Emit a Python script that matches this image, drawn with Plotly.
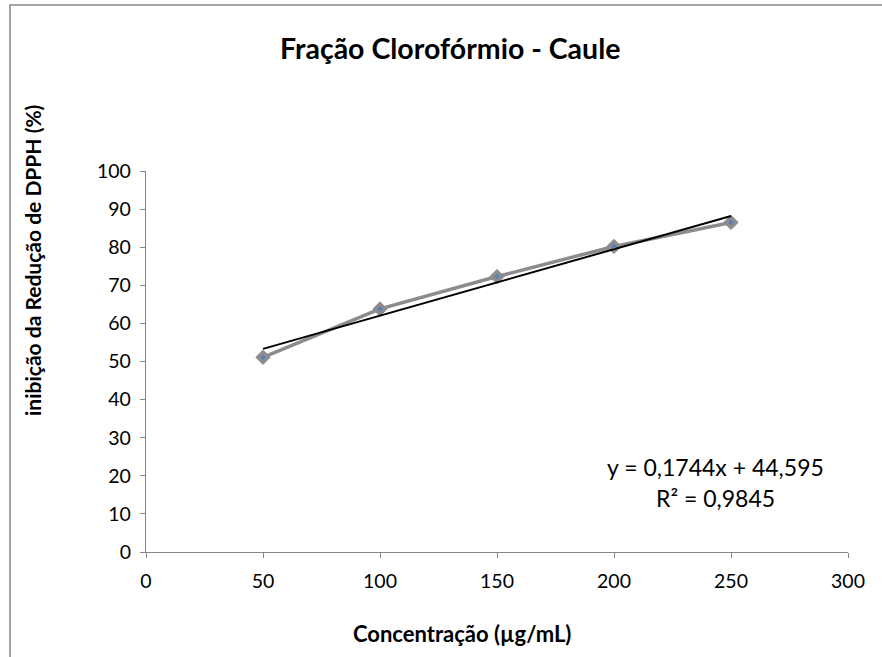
import numpy as np
import plotly.graph_objects as go

# Data
concentracao = [50, 100, 150, 200, 250]
inibicao = [51.1, 63.8, 72.3, 80.2, 86.5]
slope = 0.1744
intercept = 44.595
r2_text = "R² = 0,9845"
eq_text = "y = 0,1744x + 44,595"
x_ticks = [0, 50, 100, 150, 200, 250, 300]
y_ticks = [0, 10, 20, 30, 40, 50, 60, 70, 80, 90, 100]

W, H = 882, 657
L, R, T, B = 146, 34, 171, 105
pw, ph = W - L - R, H - T - B

def px(x):
    return (x - L) / pw

def py(y):
    return (H - B - y) / ph

FONT = "Lato, 'Open Sans', sans-serif"

trend_x = [concentracao[0], concentracao[-1]]
trend_y = [slope * v + intercept for v in trend_x]

fig = go.Figure()
fig.add_trace(go.Scatter(
    x=concentracao, y=inibicao, mode="lines+markers",
    line=dict(color="#8c8c8c", width=3.5),
    marker=dict(symbol="diamond", size=11, color="#8c8c8c",
                line=dict(color="#8c8c8c", width=1)),
    showlegend=False, cliponaxis=False))
fig.add_trace(go.Scatter(
    x=trend_x, y=trend_y, mode="lines",
    line=dict(color="black", width=2),
    showlegend=False, cliponaxis=False))
fig.add_trace(go.Scatter(
    x=concentracao, y=inibicao, mode="markers",
    marker=dict(symbol="diamond", size=4, color="#4F81BD", line=dict(width=0)),
    showlegend=False, cliponaxis=False))

axis_common = dict(
    showgrid=False, zeroline=False, showline=True, linecolor="#868686", linewidth=1.3,
    ticks="outside", ticklen=5, tickcolor="#868686", tickwidth=1.3,
    tickfont=dict(family=FONT, size=19.5, color="black"))

fig.update_xaxes(range=[0, 300], tickvals=x_ticks, ticklabelstandoff=6, **axis_common)
fig.update_yaxes(range=[0, 100], tickvals=y_ticks, ticklabelstandoff=5, **axis_common)

fig.update_layout(
    width=W, height=H, autosize=False,
    margin=dict(l=L, r=R, t=T, b=B),
    paper_bgcolor="white", plot_bgcolor="white",
    font=dict(family=FONT, color="black"),
    annotations=[
        dict(text="<b>Fração Clorofórmio - Caule</b>", xref="paper", yref="paper",
             x=px(450), y=py(48), showarrow=False, font=dict(size=28.5, family=FONT),
             xanchor="center", yanchor="middle"),
        dict(text="<b>inibição da Redução de DPPH (%)</b>", xref="paper", yref="paper",
             x=px(32), y=py(261), showarrow=False, textangle=-90,
             font=dict(size=21, family=FONT), xanchor="center", yanchor="middle"),
        dict(text="<b>Concentração (µg/mL)</b>", xref="paper", yref="paper",
             x=px(462), y=py(633), showarrow=False, font=dict(size=22, family=FONT),
             xanchor="center", yanchor="middle"),
        dict(text=eq_text, xref="paper", yref="paper",
             x=px(715), y=py(467), showarrow=False, font=dict(size=23, family=FONT),
             xanchor="center", yanchor="middle"),
        dict(text=r2_text, xref="paper", yref="paper",
             x=px(715), y=py(498), showarrow=False, font=dict(size=23, family=FONT),
             xanchor="center", yanchor="middle"),
    ],
    shapes=[dict(type="rect", xref="paper", yref="paper",
                 x0=px(10), x1=px(900), y0=py(700), y1=py(5),
                 line=dict(color="#898989", width=1.5), fillcolor="rgba(0,0,0,0)",
                 layer="below")],
)

fig.write_html("out.html", config={"displayModeBar": False},
               post_script="document.body.style.margin='0';")
